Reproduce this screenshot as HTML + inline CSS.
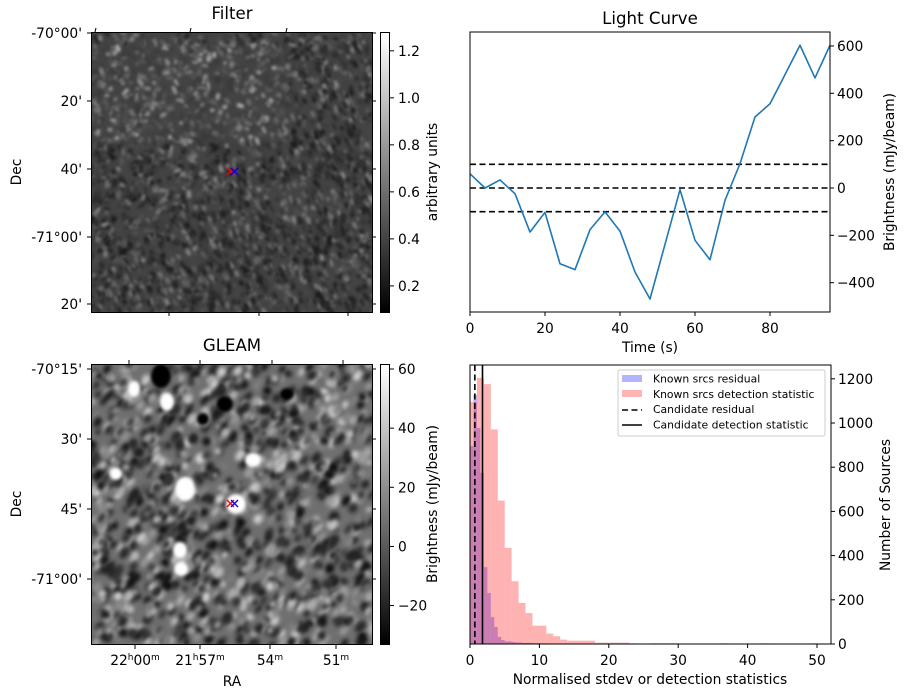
<!DOCTYPE html>
<html><head><meta charset="utf-8">
<style>
html,body{margin:0;padding:0;background:#fff;}
body{width:907px;height:699px;position:relative;overflow:hidden;font-family:"DejaVu Sans","Liberation Sans",sans-serif;}
canvas{position:absolute;}
svg{position:absolute;left:0;top:0;}
text{font-family:"DejaVu Sans","Liberation Sans",sans-serif;fill:#000;}
</style></head>
<body>
<canvas id="filterImg" width="281" height="280" style="left:91px;top:32px"></canvas>
<canvas id="gleamImg" width="281" height="281" style="left:91px;top:364px"></canvas>
<svg id="fig" width="907" height="699">
<defs>
<linearGradient id="cbar" x1="0" y1="1" x2="0" y2="0"><stop offset="0" stop-color="#000"/><stop offset="1" stop-color="#fff"/></linearGradient>
</defs>
<g id="static"></g>
</svg>
<script>
// ---- data ----
const lcTimes=[0,4,8,12,16,20,24,28,32,36,40,44,48,52,56,60,64,68,72,76,80,84,88,92,96];
const lcValues=[60,0,34,-24,-186,-103,-320,-345,-176,-101,-182,-355,-469,-238,-7,-221,-303,-52,103,300,356,479,603,465,603];
const lcThresholds=[100,0,-100];
const lcYTicks=[600,400,200,0,-200,-400];
const lcXTicks=[0,20,40,60,80];
const detBinWidth=1;
const detCounts=[1095,1204,1176,971,649,435,284,186,140,83,83,47,35,20,15,15,15,15,6,6,6,6,6,3,0,0,3,3,3,3,0,0,0,0,0,0,3,0,0,0,0,0,3,0,0,0,0,0,0,3];
const resBinWidth=0.5;
const resCounts=[896,1127,977,774,348,231,122,77,32,18,12,12,9,7,7,5,5,5,4,4,3,3,2,2,0,0,0,2,0,2,2,0,0,0,0,0,0,2];
const candResidual=0.7;
const candDetection=1.8;
const histXTicks=[0,10,20,30,40,50];
const histYTicks=[0,200,400,600,800,1000,1200];

const FS=13.8, TFS=16.6;
const NS="http://www.w3.org/2000/svg";
const root=document.getElementById('static');
function el(tag,attrs,parent){const e=document.createElementNS(NS,tag);for(const k in attrs)e.setAttribute(k,attrs[k]);(parent||root).appendChild(e);return e;}
function txt(x,y,s,opts,parent){const e=el('text',Object.assign({x:x,y:y,'font-size':FS},opts||{}),parent);e.textContent=s;return e;}

// ---- light curve ----
const lcX=t=>470+t*3.75, lcY=v=>188-v*0.2367;
const lc=el('g',{});


lcThresholds.forEach(v=>{const l=el('line',{x1:470,x2:830,y1:lcY(v),y2:lcY(v),stroke:'#000','stroke-width':1.6,'stroke-dasharray':'6,3.5'},lc);
});
const pts=lcTimes.map((t,i)=>lcX(t)+','+lcY(lcValues[i])).join(' ');
const pl=el('polyline',{points:pts,fill:'none',stroke:'#1f77b4','stroke-width':1.6,'stroke-linejoin':'round'},lc);

el('rect',{x:470,y:32,width:360,height:280,fill:'none',stroke:'#000','stroke-width':1},lc);
lcXTicks.forEach(t=>{el('line',{x1:lcX(t),x2:lcX(t),y1:312,y2:316,stroke:'#000'},lc);const e=txt(lcX(t),333,String(t),{'text-anchor':'middle'},lc);});
lcYTicks.forEach(v=>{el('line',{x1:830,x2:834,y1:lcY(v),y2:lcY(v),stroke:'#000'},lc);const e=txt(837,lcY(v)+5,v<0?'\u2212'+(-v):String(v),{},lc);});
txt(650,352,'Time (s)',{'text-anchor':'middle'},lc);
txt(0,0,'Brightness (mJy/beam)',{'text-anchor':'middle',transform:'translate(894,172) rotate(-90)'},lc);
txt(650,24,'Light Curve',{'text-anchor':'middle','font-size':TFS},lc);

// ---- histogram ----
const hX=v=>470+v*6.94, hY=c=>644-c*0.221;
const hg=el('g',{});


resCounts.forEach((c,i)=>{if(!c)return;const r=el('rect',{x:hX(i*resBinWidth),y:hY(c),width:hX(resBinWidth)-hX(0),height:644-hY(c),fill:'#0000ff','fill-opacity':0.3},hg);
});
detCounts.forEach((c,i)=>{if(!c)return;const r=el('rect',{x:hX(i*detBinWidth),y:hY(c),width:hX(detBinWidth)-hX(0),height:644-hY(c),fill:'#ff0000','fill-opacity':0.3},hg);
});
let cl=el('line',{x1:hX(candResidual),x2:hX(candResidual),y1:365,y2:644,stroke:'#000','stroke-width':1.6,'stroke-dasharray':'6,3.5'},hg);

cl=el('line',{x1:hX(candDetection),x2:hX(candDetection),y1:365,y2:644,stroke:'#000','stroke-width':1.6},hg);

el('rect',{x:470,y:365,width:361,height:279,fill:'none',stroke:'#000'},hg);
histXTicks.forEach(t=>{el('line',{x1:hX(t),x2:hX(t),y1:644,y2:648,stroke:'#000'},hg);const e=txt(hX(t),665,String(t),{'text-anchor':'middle'},hg);});
histYTicks.forEach(v=>{el('line',{x1:831,x2:835,y1:hY(v),y2:hY(v),stroke:'#000'},hg);const e=txt(838,hY(v)+5,String(v),{},hg);});
txt(650,684,'Normalised stdev or detection statistics',{'text-anchor':'middle'},hg);
txt(0,0,'Number of Sources',{'text-anchor':'middle',transform:'translate(890,505) rotate(-90)'},hg);
// legend
const lg=el('g',{},hg);

el('rect',{x:618,y:370,width:207,height:66,rx:2,fill:'#fff','fill-opacity':0.8,stroke:'#ccc'},lg);
el('rect',{x:622,y:375,width:20,height:7,fill:'#b3b3ff'},lg);
el('rect',{x:622,y:390,width:20,height:7,fill:'#ffb3b3'},lg);
el('line',{x1:622,x2:642,y1:410,y2:410,stroke:'#000','stroke-width':1.6,'stroke-dasharray':'6,3.5'},lg);
el('line',{x1:622,x2:642,y1:425,y2:425,stroke:'#000','stroke-width':1.6},lg);
['Known srcs residual','Known srcs detection statistic','Candidate residual','Candidate detection statistic'].forEach((s,i)=>{const e=txt(653,382.5+i*15.3,s,{'font-size':10.8,textLength:null},lg);e.removeAttribute('textLength');});

// ---- image panels axes ----
function imgAxes(top,title,yt,cbTicks,cbTop,cbBot,cbLabel,name,dec1){
  const g=el('g',{});
  
  el('rect',{x:91.5,y:top+0.5,width:281,height:280,fill:'none',stroke:'#000'},g);
  txt(232,top-13,title,{'text-anchor':'middle','font-size':TFS},g);
  yt.forEach(([y,s])=>{el('line',{x1:87,x2:91,y1:y,y2:y,stroke:'#000'},g);const e=txt(82,y+5,s,{'text-anchor':'end'},g);});
  yt.forEach(([y])=>{el('line',{x1:372,x2:376,y1:y,y2:y,stroke:'#000'},g);});
  txt(0,0,'Dec',{'text-anchor':'middle',transform:'translate(21,'+(top+140)+') rotate(-90)'},g);
  el('rect',{x:380.5,y:top+0.5,width:9,height:280,fill:'url(#cbar)',stroke:'#000'},g);
  const sc=v=>top+280-(v-cbBot)/(cbTop-cbBot)*280;
  cbTicks.forEach(v=>{el('line',{x1:390,x2:394,y1:sc(v),y2:sc(v),stroke:'#000'},g);const e=txt(398,sc(v)+5,v<0?'\u2212'+(-v):(dec1?v.toFixed(1):String(v)),{},g);});
  txt(0,0,cbLabel,{'text-anchor':'middle',transform:'translate(437,'+(top+140)+') rotate(-90)'},g);
  const mx=234,my=top+140;
  el('path',{d:`M${mx-7},${my-4} l7,7 M${mx-7},${my+3} l7,-7`,stroke:'#f00','stroke-width':1.4},g);
  el('path',{d:`M${mx-3},${my-4} l7,7 M${mx-3},${my+3} l7,-7`,stroke:'#00f','stroke-width':1.4},g);
  return g;
}
const fp=imgAxes(32,'Filter',[[33,'-70°00\''],[101,'20\''],[169,'40\''],[237,'-71°00\''],[304,'20\'']],[0.2,0.4,0.6,0.8,1.0,1.2],1.28,0.089,'arbitrary units','filter-panel',true);
[95,190,286].forEach(x=>el('line',{x1:x,x2:x+1,y1:32,y2:28,stroke:'#000'},fp));
[169,259,348].forEach(x=>el('line',{x1:x,x2:x,y1:312,y2:316,stroke:'#000'},fp));
const gp=imgAxes(364,'GLEAM',[[369,'-70°15\''],[439,'30\''],[509,'45\''],[579,'-71°00\'']],[-20,0,20,40,60],61.7,-33,'Brightness (mJy/beam)','gleam-panel',false);
[129,200,272,343].forEach(x=>el('line',{x1:x,x2:x,y1:364,y2:360,stroke:'#000'},gp));
[[135,'22','00'],[200,'21','57'],[270,'','54'],[336,'','51']].forEach(([x,h,m])=>{
  el('line',{x1:x,x2:x,y1:645,y2:649,stroke:'#000'},gp);
  const t=el('text',{x:x,y:665,'font-size':FS,'text-anchor':'middle'},gp);
  
  if(h){t.appendChild(document.createTextNode(h));const s=el('tspan',{'font-size':9,dy:-5},t);s.textContent='h';const s2=el('tspan',{dy:5},t);s2.textContent=m;}
  else t.appendChild(document.createTextNode(m));
  const s3=el('tspan',{'font-size':9,dy:-5},t);s3.textContent='m';
});
txt(232,686,'RA',{'text-anchor':'middle'},gp);

// ---- image textures ----
let seed=12345;function rnd(){seed=(seed*1103515245+12345)&0x7fffffff;return seed/0x7fffffff;}
(function(){
  const c=document.getElementById('filterImg').getContext('2d');
  c.fillStyle='#444';c.fillRect(0,0,281,280);
  c.filter='blur(1.6px)';
  for(let i=0;i<3500;i++){
    const x=rnd()*281,y=rnd()*280;
    let b=rnd();const upper=(y<110&&x<200&&y>10)?30:0;
    const g=Math.floor(25+b*b*130+upper);
    c.strokeStyle=`rgb(${g},${g},${g})`;c.lineWidth=1.5+rnd()*2.5;
    const L=2+rnd()*6, a=(x+y>260)?1.0+rnd()*0.3:rnd()*3.14;
    c.beginPath();c.moveTo(x,y);c.lineTo(x+Math.cos(a)*L,y+Math.sin(a)*L);c.stroke();
  }
})();
(function(){
  const c=document.getElementById('gleamImg').getContext('2d');
  c.fillStyle='#707070';c.fillRect(0,0,281,281);
  c.filter='blur(2.2px)';
  for(let i=0;i<1500;i++){
    const x=rnd()*281,y=rnd()*281,b=rnd();
    const g=b<0.5?Math.floor(10+b*90):Math.floor(110+(b-0.5)*220);
    c.fillStyle=`rgb(${g},${g},${g})`;
    c.beginPath();c.ellipse(x,y,2+rnd()*2.5,3+rnd()*3.5,0.6,0,6.28);c.fill();
  }
  c.filter='blur(1.5px)';c.fillStyle='#fff';
  [[76,38,7,9],[94,125,10,12],[90,205,7,7],[145,140,10,10],[162,96,8,7],[25,110,6,6],[89,186,7,8],[43,25,6,8]].forEach(([x,y,rx,ry])=>{c.beginPath();c.ellipse(x,y,rx,ry,0,0,6.28);c.fill();});
  c.fillStyle='#000';
  [[70,12,10,12],[112,55,6,6],[134,40,8,8],[196,30,7,6]].forEach(([x,y,rx,ry])=>{c.beginPath();c.ellipse(x,y,rx,ry,0,0,6.28);c.fill();});
})();
</script>
</body></html>
